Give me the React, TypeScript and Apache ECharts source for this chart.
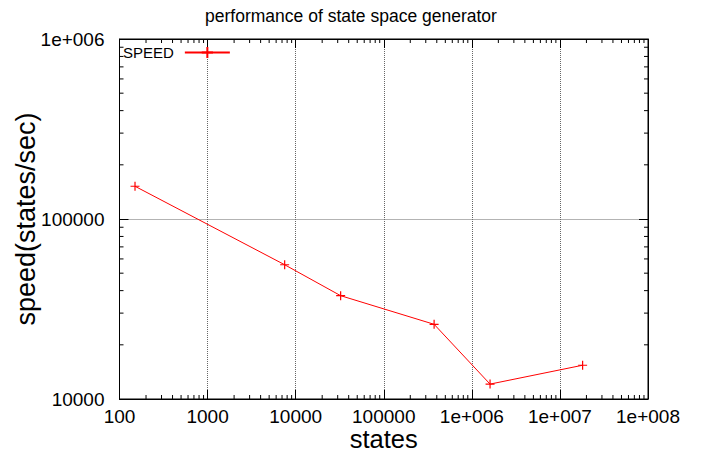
import React, { useEffect, useRef } from "react";
import * as echarts from "echarts";

// ---- data ----
const statesCount = [150, 7500, 32400, 373000, 1610000, 18100000];
const speedValues = [152000, 55700, 37500, 26000, 12100, 15400];
const xTickLabels = ["100", "1000", "10000", "100000", "1e+006", "1e+007", "1e+008"];
const yTickLabels = ["10000", "100000", "1e+006"];
const seriesName = "SPEED";
const titleText = "performance of state space generator";
const xName = "states";
const yName = "speed(states/sec)";

const X_MIN = 100;
const X_MAX = 1e8;
const Y_MIN = 1e4;
const Y_MAX = 1e6;
const FONT = "'Liberation Sans', Arial, Helvetica, sans-serif";

const minorMultipliers = [2, 3, 4, 5, 6, 7, 8, 9];

function buildMinorTicks() {
  const out: number[][] = [];
  for (let e = Math.log10(X_MIN); e < Math.log10(X_MAX); e++) {
    for (const m of minorMultipliers) out.push([m * Math.pow(10, e), Y_MIN, 0]);
  }
  for (let e = Math.log10(Y_MIN); e < Math.log10(Y_MAX); e++) {
    for (const m of minorMultipliers) out.push([X_MIN, m * Math.pow(10, e), 1]);
  }
  return out;
}

export default function App() {
  const ref = useRef<HTMLDivElement>(null);

  useEffect(() => {
    if (!ref.current) return;
    const chart = echarts.init(ref.current, undefined, { renderer: "svg" });
    const minorTickLen = 4;
    const axisCommon = {
      type: "log" as const,
      logBase: 10,
      axisLine: { show: true, lineStyle: { color: "#000", width: 1 } },
      axisTick: { show: true, inside: true, length: 9, lineStyle: { color: "#000", width: 1 } },
      minorTick: { show: false },
    };
    chart.setOption({
      animation: false,
      backgroundColor: "#fff",
      textStyle: { fontFamily: FONT },
      title: {
        text: titleText,
        left: "center",
        top: 7,
        padding: 0,
        textStyle: { fontFamily: FONT, fontSize: 17.5, fontWeight: "normal", color: "#000" },
      },
      legend: {
        data: [seriesName],
        left: 123,
        top: 45,
        padding: 0,
        align: "right",
        itemWidth: 45,
        itemHeight: 14,
        itemGap: 10,
        textStyle: { fontFamily: FONT, fontSize: 15, color: "#000", padding: [0, 6, 0, 0] },
      },
      grid: {
        left: 119.5,
        right: 54,
        top: 39,
        bottom: 54,
        containLabel: false,
        outerBoundsMode: "none",
        show: true,
        borderColor: "#000",
        borderWidth: 1,
      },
      xAxis: [
        {
          ...axisCommon,
          position: "bottom",
          min: X_MIN,
          max: X_MAX,
          name: xName,
          nameLocation: "middle",
          nameGap: 30,
          nameMoveOverlap: false,
          nameTextStyle: { fontFamily: FONT, fontSize: 25.5, lineHeight: 20, color: "#000" },
          axisLabel: {
            margin: 8,
            fontFamily: FONT,
            fontSize: 19,
            color: "#000",
            formatter: (v: number) => xTickLabels[Math.round(Math.log10(v)) - 2] ?? "",
          },
          splitLine: { show: true, lineStyle: { color: "#666", width: 1, type: "dotted" } },
        },
        {
          ...axisCommon,
          position: "top",
          min: X_MIN,
          max: X_MAX,
          axisLabel: { show: false },
          splitLine: { show: false },
        },
      ],
      yAxis: [
        {
          ...axisCommon,
          position: "left",
          min: Y_MIN,
          max: Y_MAX,
          name: yName,
          nameLocation: "middle",
          nameGap: 80,
          nameMoveOverlap: false,
          nameTextStyle: { fontFamily: FONT, fontSize: 27, color: "#000" },
          axisLabel: {
            margin: 15,
            fontFamily: FONT,
            fontSize: 19,
            color: "#000",
            formatter: (v: number) => yTickLabels[Math.round(Math.log10(v)) - 4] ?? "",
          },
          splitLine: { show: true, lineStyle: { color: "#666", width: 1, type: "dotted" } },
        },
        {
          ...axisCommon,
          position: "right",
          min: Y_MIN,
          max: Y_MAX,
          axisLabel: { show: false },
          splitLine: { show: false },
        },
      ],
      series: [
        {
          type: "custom",
          name: "minorTicks",
          xAxisIndex: 0,
          yAxisIndex: 0,
          silent: true,
          clip: false,
          data: buildMinorTicks(),
          renderItem: (_params: any, api: any) => {
            const kind = api.value(2);
            const style = { stroke: "#000", lineWidth: 1 };
            if (kind === 0) {
              const v = api.value(0);
              const pb = api.coord([v, Y_MIN]);
              const pt = api.coord([v, Y_MAX]);
              return {
                type: "group",
                children: [
                  { type: "line", shape: { x1: pb[0], y1: pb[1], x2: pb[0], y2: pb[1] - minorTickLen }, style },
                  { type: "line", shape: { x1: pt[0], y1: pt[1], x2: pt[0], y2: pt[1] + minorTickLen }, style },
                ],
              };
            }
            const v = api.value(1);
            const pl = api.coord([X_MIN, v]);
            const pr = api.coord([X_MAX, v]);
            return {
              type: "group",
              children: [
                { type: "line", shape: { x1: pl[0], y1: pl[1], x2: pl[0] + minorTickLen, y2: pl[1] }, style },
                { type: "line", shape: { x1: pr[0], y1: pr[1], x2: pr[0] - minorTickLen, y2: pr[1] }, style },
              ],
            };
          },
        },
        {
          type: "line",
          name: seriesName,
          xAxisIndex: 0,
          yAxisIndex: 0,
          data: statesCount.map((x, i) => [x, speedValues[i]]),
          symbol: "path://M0,5L10,5M5,0L5,10",
          symbolSize: 9,
          showSymbol: true,
          lineStyle: { color: "#ff0000", width: 1 },
          itemStyle: { color: "#ff0000", borderColor: "#ff0000", borderWidth: 1.2 },
          z: 5,
        },
      ],
    });
    return () => chart.dispose();
  }, []);

  return (
    <div
      ref={ref}
      style={{ position: "fixed", left: 0, top: 0, width: 702, height: 453, background: "#fff" }}
    />
  );
}
